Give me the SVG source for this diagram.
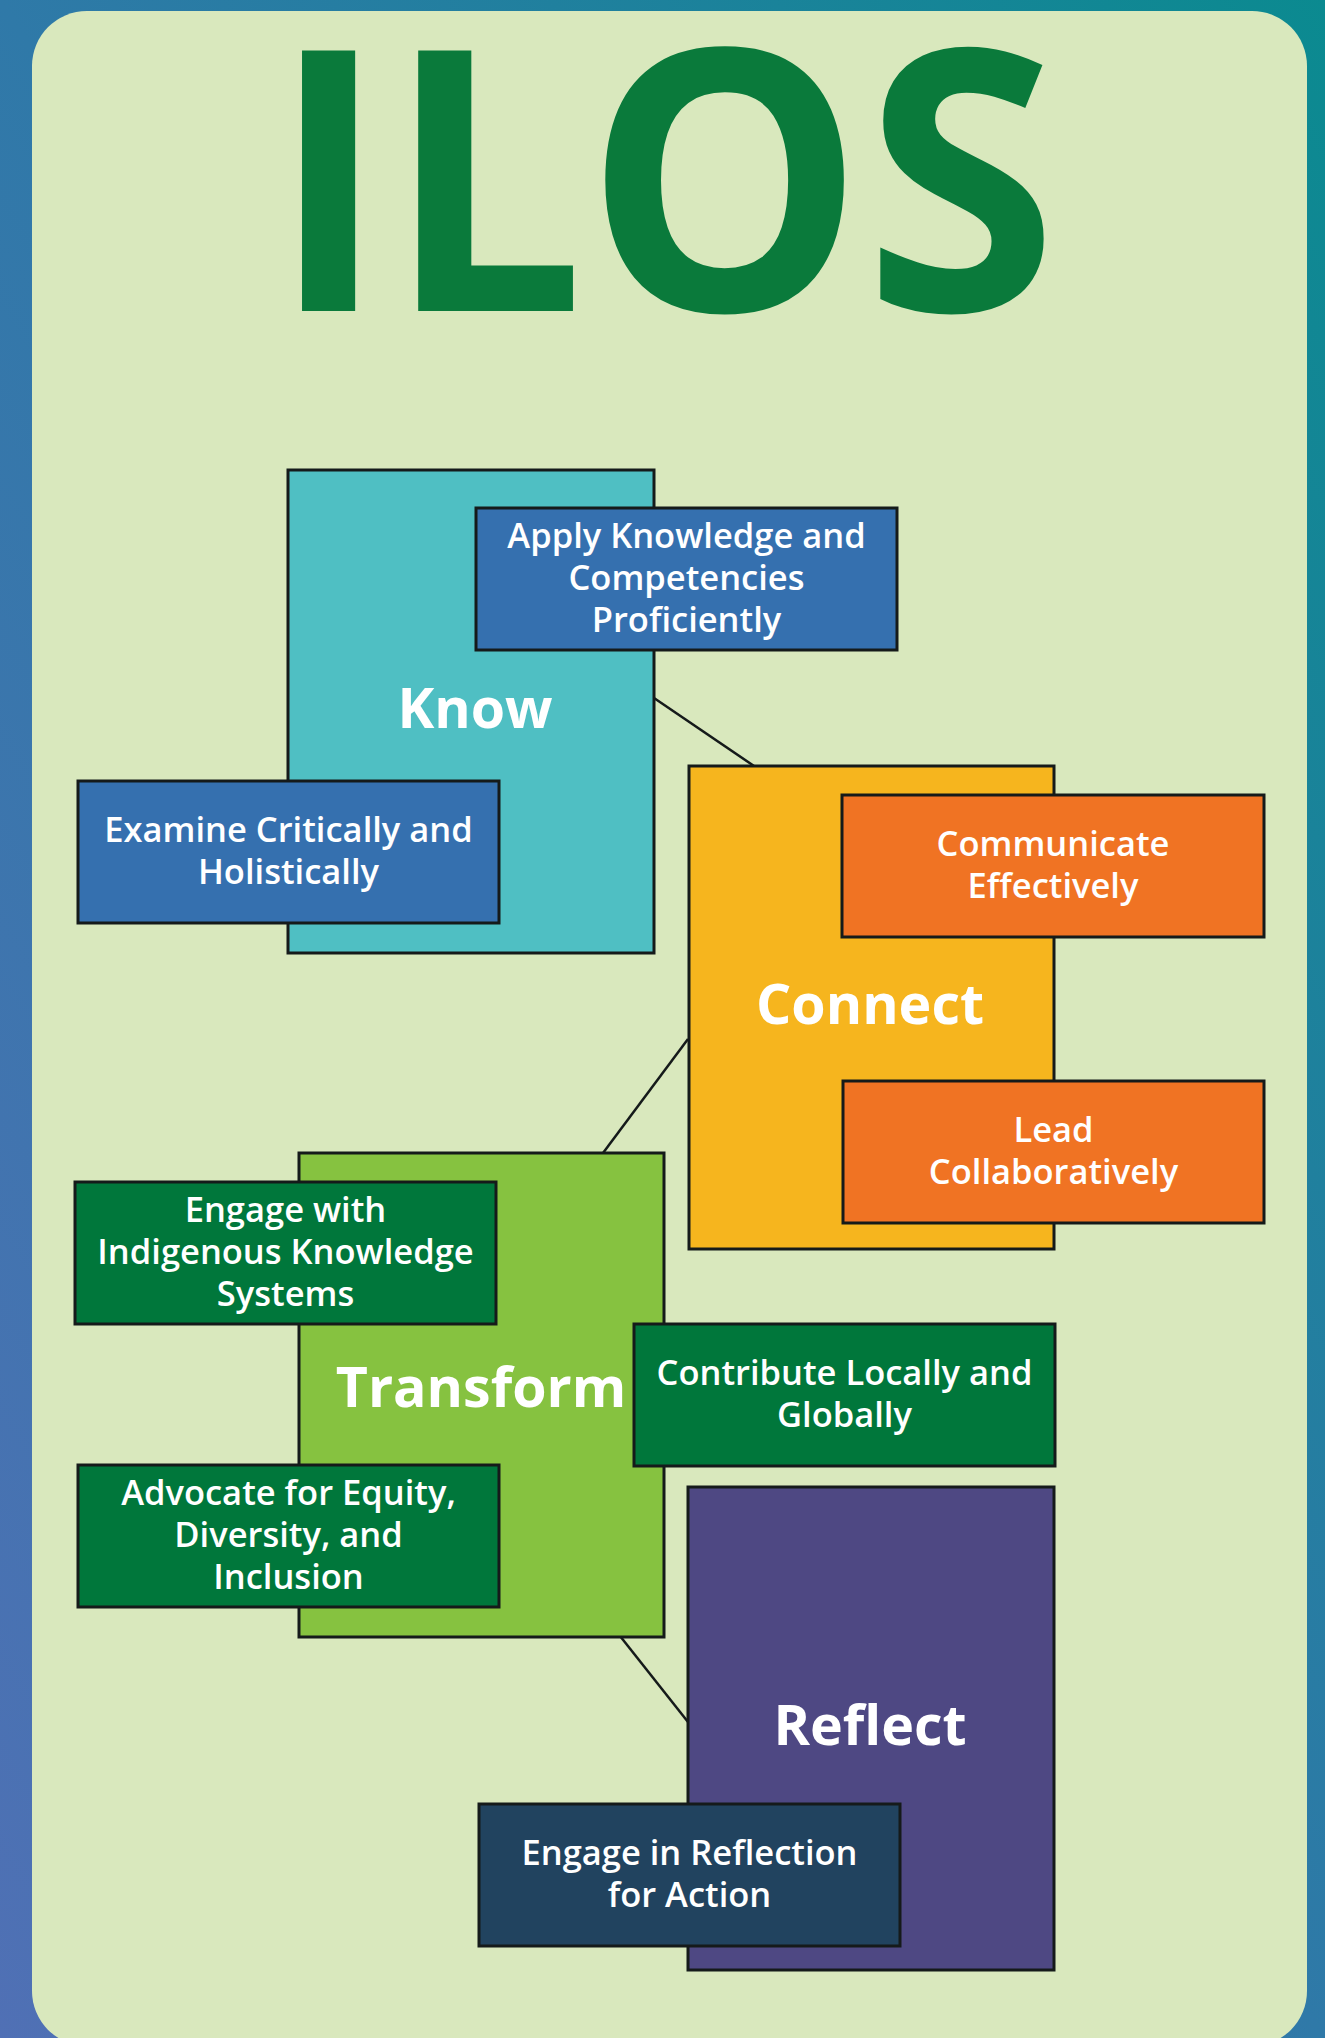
<svg xmlns="http://www.w3.org/2000/svg" width="1325" height="2038" viewBox="0 0 1325 2038">
<defs>
<linearGradient id="bg" x1="0" y1="1" x2="1" y2="0">
<stop offset="0" stop-color="#5070b5"/>
<stop offset="0.5" stop-color="#2f79a8"/>
<stop offset="1" stop-color="#0b8a90"/>
</linearGradient>
<style>
.box{stroke:#151a1a;stroke-width:3}
.main{font-family:"Open Sans","DejaVu Sans",sans-serif;font-weight:700;font-size:55.5px;fill:#ffffff;text-anchor:middle}
.sub{font-family:"Open Sans","DejaVu Sans",sans-serif;font-weight:600;font-size:34.5px;fill:#ffffff;text-anchor:middle}
.conn{stroke:#151a1a;stroke-width:2.5;fill:none}
</style>
</defs>
<rect x="0" y="0" width="1325" height="2038" fill="url(#bg)"/>
<rect x="32" y="11" width="1275" height="2035" rx="55" ry="55" fill="#d9e8bd"/>
<text id="title" x="664" y="311" font-family="'Open Sans','DejaVu Sans',sans-serif" font-weight="700" font-size="365" fill="#0a7a3b" text-anchor="middle" textLength="787" lengthAdjust="spacingAndGlyphs">ILOS</text>

<g id="connectors">
<line class="conn" x1="654" y1="698" x2="754" y2="766"/>
<line class="conn" x1="688" y1="1039" x2="603" y2="1153"/>
<line class="conn" x1="620" y1="1636" x2="688" y2="1722"/>
</g>

<g id="know">
<rect class="box" x="288" y="470" width="366" height="483" fill="#4fbfc3"/>
<text class="main" x="475" y="728">Know</text>
</g>
<g id="apply">
<rect class="box" x="476" y="508" width="421" height="142" fill="#3570af"/>
<text class="sub" x="686.5" y="548">Apply Knowledge and</text>
<text class="sub" x="686.5" y="590">Competencies</text>
<text class="sub" x="686.5" y="632">Proficiently</text>
</g>
<g id="examine">
<rect class="box" x="78" y="781" width="421" height="142" fill="#3570af"/>
<text class="sub" x="288.5" y="842">Examine Critically and</text>
<text class="sub" x="288.5" y="884">Holistically</text>
</g>

<g id="connect">
<rect class="box" x="689" y="766" width="365" height="483" fill="#f6b51e"/>
<text class="main" x="870" y="1024">Connect</text>
</g>
<g id="communicate">
<rect class="box" x="842" y="795" width="422" height="142" fill="#f07323"/>
<text class="sub" x="1053" y="856">Communicate</text>
<text class="sub" x="1053" y="898">Effectively</text>
</g>
<g id="lead">
<rect class="box" x="843" y="1081" width="421" height="142" fill="#f07323"/>
<text class="sub" x="1053.5" y="1142">Lead</text>
<text class="sub" x="1053.5" y="1184">Collaboratively</text>
</g>

<g id="transform">
<rect class="box" x="299" y="1153" width="365" height="484" fill="#86c240"/>
<text class="main" x="481" y="1407">Transform</text>
</g>
<g id="indigenous">
<rect class="box" x="75" y="1182" width="421" height="142" fill="#00773b"/>
<text class="sub" x="285.5" y="1222">Engage with</text>
<text class="sub" x="285.5" y="1264">Indigenous Knowledge</text>
<text class="sub" x="285.5" y="1306">Systems</text>
</g>
<g id="contribute">
<rect class="box" x="634" y="1324" width="421" height="142" fill="#00773b"/>
<text class="sub" x="844.5" y="1385">Contribute Locally and</text>
<text class="sub" x="844.5" y="1427">Globally</text>
</g>
<g id="advocate">
<rect class="box" x="78" y="1465" width="421" height="142" fill="#00773b"/>
<text class="sub" x="288.5" y="1505">Advocate for Equity,</text>
<text class="sub" x="288.5" y="1547">Diversity, and</text>
<text class="sub" x="288.5" y="1589">Inclusion</text>
</g>

<g id="reflect">
<rect class="box" x="688" y="1487" width="366" height="483" fill="#4e4883"/>
<text class="main" x="870" y="1745">Reflect</text>
</g>
<g id="reflection-action">
<rect class="box" x="479" y="1804" width="421" height="142" fill="#21435f"/>
<text class="sub" x="689.5" y="1865">Engage in Reflection</text>
<text class="sub" x="689.5" y="1907">for Action</text>
</g>
</svg>
